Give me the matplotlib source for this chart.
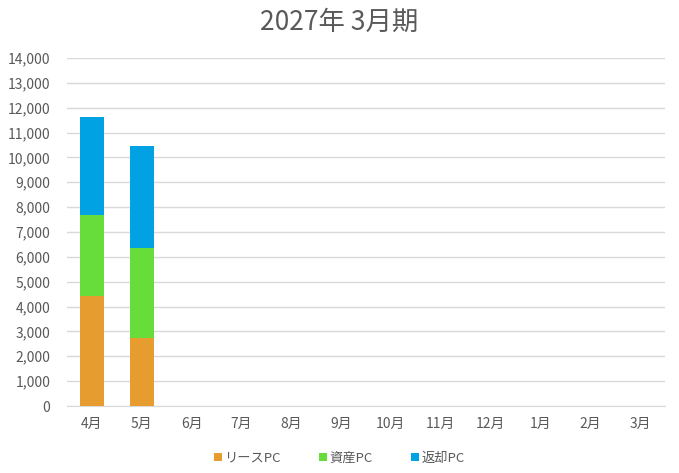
import matplotlib
matplotlib.use("Agg")
import matplotlib.pyplot as plt
from matplotlib.ticker import FuncFormatter, MultipleLocator
import numpy as np

plt.rcParams['font.family'] = ['Noto Sans CJK JP', 'DejaVu Sans']

months = ['4月', '5月', '6月', '7月', '8月', '9月', '10月', '11月', '12月', '1月', '2月', '3月']
lease = [4420, 2730, 0, 0, 0, 0, 0, 0, 0, 0, 0, 0]
asset = [3250, 3610, 0, 0, 0, 0, 0, 0, 0, 0, 0, 0]
returned = [3950, 4120, 0, 0, 0, 0, 0, 0, 0, 0, 0, 0]
series_names = ['リースPC', '資産PC', '返却PC']
colors = ['#E69C2F', '#66DD3A', '#00A2E3']

fig = plt.figure(figsize=(6.79, 4.73), dpi=100)
ax = fig.add_axes([67/679, 67/473, 598/679, 348/473])

x = np.arange(len(months))
w = 0.49
b1 = ax.bar(x, lease, w, color=colors[0], label=series_names[0], zorder=3)
b2 = ax.bar(x, asset, w, bottom=lease, color=colors[1], label=series_names[1], zorder=3)
bottom2 = np.array(lease) + np.array(asset)
b3 = ax.bar(x, returned, w, bottom=bottom2, color=colors[2], label=series_names[2], zorder=3)

ax.set_xlim(-0.5, len(months) - 0.5)
ax.set_ylim(0, 14000)
ax.yaxis.set_major_locator(MultipleLocator(1000))
ax.yaxis.set_major_formatter(FuncFormatter(lambda v, p: f"{int(v):,}"))
ax.set_xticks(x)
ax.set_xticklabels(months)
ax.grid(axis='y', color='#D9D9D9', linewidth=1, zorder=0)
for s in ['top', 'right', 'left']:
    ax.spines[s].set_visible(False)
ax.spines['bottom'].set_color('#D9D9D9')
ax.tick_params(axis='both', length=0, colors='#595959', labelsize=10)
ax.tick_params(axis='y', pad=12)
ax.tick_params(axis='x', pad=8)

fig.text(0.5, 1 - 22/473, '2027年 3月期', ha='center', va='center', fontsize=19, color='#595959')

leg = fig.legend(handles=[b1, b2, b3], labels=series_names, loc='center', bbox_to_anchor=(0.5, 1 - 458/473),
                 ncol=3, frameon=False, fontsize=9.5, handlelength=0.6, handleheight=0.6,
                 columnspacing=2.9, handletextpad=0.2, labelcolor='#595959')

fig.savefig('out.png', dpi=100)
